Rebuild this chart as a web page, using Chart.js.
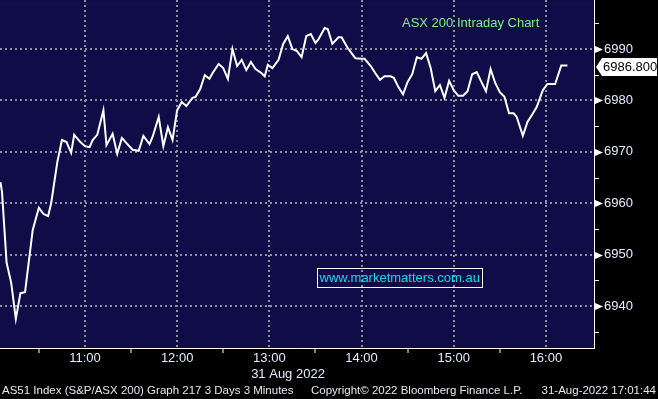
<!DOCTYPE html>
<html><head><meta charset="utf-8">
<script src="https://cdn.jsdelivr.net/npm/chart.js@4.4.0/dist/chart.umd.min.js"></script>
<style>html,body{margin:0;padding:0;background:#000;}canvas{display:block;}</style>
</head><body>
<canvas id="c" width="658" height="399"></canvas>
<script>
// ---- data ----
const times = [
'10:05','10:06','10:09','10:12','10:15','10:18','10:21','10:26','10:30','10:33','10:36','10:38','10:42','10:45','10:48','10:51','10:53','10:57',
'11:00','11:03','11:05','11:08','11:12','11:14','11:18','11:21','11:24','11:27','11:31','11:35','11:38','11:42','11:44','11:48','11:51','11:54','11:57',
'12:00','12:03','12:06','12:10','12:12','12:15','12:18','12:21','12:23','12:27','12:30','12:33','12:36','12:39','12:42','12:45','12:48','12:51','12:55','12:57','12:59',
'13:02','13:06','13:09','13:12','13:15','13:18','13:21','13:24','13:27','13:30','13:32','13:36','13:38','13:41','13:45','13:47','13:51','13:54','13:56',
'14:00','14:02','14:06','14:09','14:12','14:15','14:19','14:21','14:24','14:27','14:30','14:33','14:36','14:39','14:42','14:45','14:48','14:51','14:54','14:57',
'15:00','15:03','15:06','15:09','15:12','15:15','15:18','15:21','15:24','15:27','15:30','15:33','15:36','15:39','15:41','15:45','15:48','15:51','15:54','15:58',
'16:01','16:06','16:10','16:14'
];
const prices = [
6964.1,6962.2,6948.4,6944.5,6937.5,6942.5,6942.7,6954.8,6959.1,6957.9,6957.5,6960.0,6968.0,6972.3,6971.9,6969.8,6973.3,6971.9,
6971.1,6970.9,6972.3,6973.3,6978.1,6971.3,6973.5,6969.6,6972.7,6971.7,6970.4,6970.2,6973.1,6971.5,6972.9,6976.8,6971.1,6974.8,6972.3,
6978.1,6979.7,6978.9,6980.5,6980.7,6982.2,6984.9,6984.2,6985.3,6987.1,6986.3,6984.2,6990.0,6986.7,6987.9,6985.9,6987.5,6986.1,6985.3,6984.7,6986.9,
6986.3,6987.9,6991.0,6992.5,6990.0,6989.6,6988.4,6992.5,6992.9,6991.2,6991.9,6994.1,6993.9,6991.0,6992.3,6992.3,6990.2,6989.0,6988.2,
6988.1,6988.1,6986.7,6985.3,6984.0,6984.7,6984.7,6984.4,6982.6,6981.2,6983.6,6985.1,6988.4,6988.1,6989.2,6986.3,6981.8,6983.0,6980.5,6983.8,
6982.0,6980.9,6980.9,6981.8,6985.1,6985.5,6983.6,6981.8,6986.1,6983.4,6981.6,6980.7,6977.5,6977.5,6976.8,6973.1,6975.8,6977.2,6978.7,6982.0,
6983.2,6983.2,6986.8,6986.8
];
const hourTickLabels = ['11:00','12:00','13:00','14:00','15:00','16:00'];
const halfHourTicks = ['10:30','11:30','12:30','13:30','14:30','15:30'];
const yTickLabels = [6940,6950,6960,6970,6980,6990];
const yMinorTicks = [6935,6945,6955,6965,6975,6985,6995];
const lastPrice = 6986.8;
const xRange = ['10:04.7','16:31.3'];
const yRange = [6931.83,6999.53];
const titleText = 'ASX 200 Intraday Chart';
const watermarkText = 'www.marketmatters.com.au';
const dateText = '31 Aug 2022';
const footerLeft = 'AS51 Index (S&P/ASX 200) Graph 217 3 Days 3 Minutes';
const footerMid = 'Copyright\u00A9 2022 Bloomberg Finance L.P.';
const footerRight = '31-Aug-2022 17:01:44';

// ---- helpers ----
const toMin = s => { const [h,m] = s.split(':'); return Number(h)*60 + Number(m); };
const pad2 = n => String(n).padStart(2,'0');
const fmtTime = v => pad2(Math.floor(v/60)) + ':' + pad2(Math.round(v%60));
const hourSet = new Set(hourTickLabels.map(toMin));
const xTickValues = [...halfHourTicks, ...hourTickLabels].map(toMin).sort((a,b)=>a-b);
const points = times.map((t,i)=>({x: toMin(t), y: prices[i]}));

const FONT = '"Liberation Sans", Arial, sans-serif';
const PLOT_BG = '#0f0c48';
const GRID = '#8e8e9c';
const LABEL = '#e4ebff';
const CLEAR = 'rgba(0,0,0,0)';

const bgPlugin = {
  id: 'bg',
  beforeDraw(chart) {
    const {ctx, chartArea: a} = chart;
    ctx.save();
    ctx.fillStyle = '#000';
    ctx.fillRect(0,0,chart.width,chart.height);
    ctx.fillStyle = PLOT_BG;
    ctx.fillRect(a.left, a.top, a.right-a.left, a.bottom-a.top);
    ctx.restore();
  }
};

const overlayPlugin = {
  id: 'overlay',
  afterDraw(chart) {
    const {ctx, chartArea: a} = chart;
    const ys = chart.scales.y;
    ctx.save();
    // minor tick marks on the value axis
    ctx.strokeStyle = '#ffffff';
    ctx.lineWidth = 1;
    yMinorTicks.forEach(v => {
      const y = Math.round(ys.getPixelForValue(v)) + 0.5;
      ctx.beginPath();
      ctx.moveTo(a.right, y);
      ctx.lineTo(a.right + 5, y);
      ctx.stroke();
    });
    // triangles at major y ticks
    ctx.fillStyle = '#ffffff';
    yTickLabels.forEach(v => {
      const y = Math.round(ys.getPixelForValue(v)) + 0.5;
      ctx.beginPath();
      ctx.moveTo(a.right, y-4);
      ctx.lineTo(a.right+9, y);
      ctx.lineTo(a.right, y+4);
      ctx.closePath();
      ctx.fill();
    });
    // last price tag
    const py = ys.getPixelForValue(lastPrice) + 1.5;
    ctx.beginPath();
    ctx.moveTo(a.right+2, py);
    ctx.lineTo(a.right+8, py-9);
    ctx.lineTo(chart.width-1, py-9);
    ctx.lineTo(chart.width-1, py+9);
    ctx.lineTo(a.right+8, py+9);
    ctx.closePath();
    ctx.fillStyle = '#ffffff';
    ctx.fill();
    ctx.fillStyle = '#000000';
    ctx.font = '13px ' + FONT;
    ctx.textBaseline = 'middle';
    ctx.textAlign = 'left';
    ctx.fillText(lastPrice.toFixed(3), a.right+9, py+0.5);
    // title
    ctx.fillStyle = '#7cf07c';
    ctx.font = '13px ' + FONT;
    ctx.fillText(titleText, 402, 23);
    // watermark
    ctx.strokeStyle = '#ffffff';
    ctx.lineWidth = 1;
    ctx.strokeRect(317.5, 268.5, 165, 19);
    ctx.fillStyle = '#10dcf0';
    ctx.fillText(watermarkText, 319.5, 278.5);
    // date
    ctx.fillStyle = LABEL;
    ctx.textAlign = 'center';
    ctx.fillText(dateText, 288, 374);
    // footer
    ctx.fillStyle = '#e6e6ee';
    ctx.font = '11.5px ' + FONT;
    ctx.textAlign = 'left';
    ctx.fillText(footerLeft, 2, 391);
    ctx.fillText(footerMid, 311, 391);
    ctx.textAlign = 'right';
    ctx.fillText(footerRight, 656, 391);
    ctx.restore();
  }
};

new Chart(document.getElementById('c'), {
  type: 'line',
  data: { datasets: [{
    data: points, borderColor: '#ffffff', borderWidth: 2, pointRadius: 0,
    tension: 0, fill: false, clip: 0
  }]},
  options: {
    responsive: false, animation: false, devicePixelRatio: 1,
    layout: { padding: 0, autoPadding: false },
    plugins: { legend: { display: false }, tooltip: { enabled: false } },
    scales: {
      x: {
        type: 'linear', position: 'bottom', bounds: 'data',
        min: toMin(xRange[0]), max: toMin(xRange[1]),
        afterBuildTicks: s => { s.ticks = xTickValues.map(v => ({value: v})); },
        afterFit: s => { s.height = 51; },
        grid: {
          color: c => hourSet.has(c.tick && c.tick.value) ? GRID : CLEAR,
          tickColor: c => hourSet.has(c.tick && c.tick.value) ? CLEAR : '#ffffff',
          lineWidth: 2, tickWidth: 1, tickLength: 5, drawTicks: true
        },
        border: { display: true, color: '#ffffff', width: 1, dash: [2,3] },
        ticks: {
          autoSkip: false, maxRotation: 0, padding: -2, color: LABEL,
          font: { family: FONT, size: 13 },
          callback: v => hourSet.has(v) ? fmtTime(v) : ''
        }
      },
      y: {
        type: 'linear', position: 'right', bounds: 'data',
        min: yRange[0], max: yRange[1],
        afterBuildTicks: s => { s.ticks = yTickLabels.map(v => ({value: v})); },
        afterFit: s => { s.width = 64; },
        grid: {
          color: GRID, tickColor: CLEAR,
          lineWidth: 2, tickWidth: 1, tickLength: 10, drawTicks: true
        },
        border: { display: true, color: '#ffffff', width: 1, dash: [2,3] },
        ticks: {
          autoSkip: false, padding: 0, color: LABEL,
          font: { family: FONT, size: 13, lineHeight: 0.01 },
          callback: v => String(v)
        }
      }
    }
  },
  plugins: [bgPlugin, overlayPlugin]
});
</script>
</body></html>
